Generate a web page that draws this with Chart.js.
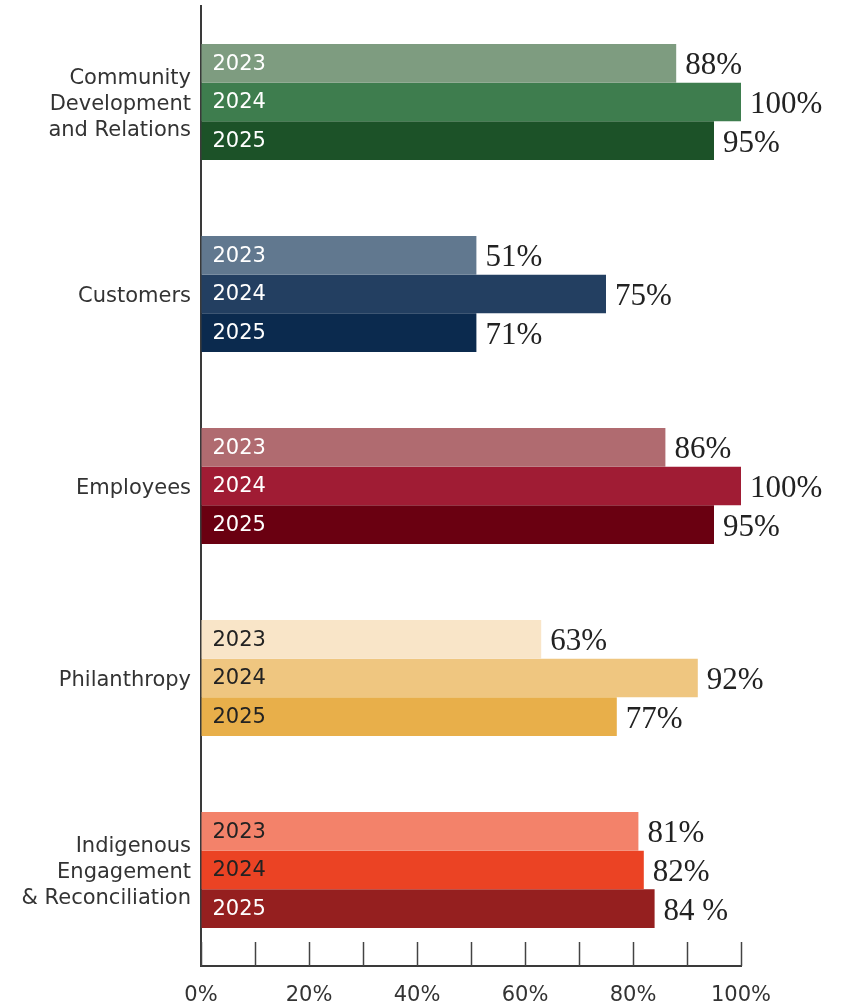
<!DOCTYPE html>
<html>
<head>
<meta charset="utf-8">
<script src="https://cdn.jsdelivr.net/npm/chart.js@4"></script>
<style>
  html, body { margin: 0; padding: 0; background: #fff; }
  #wrap { width: 843px; height: 1004px; }
</style>
</head>
<body>
<div id="wrap"><canvas id="c" width="843" height="1004"></canvas></div>
<script>
// categories (multi-line axis labels)
var categories = [
  ["Community", "Development", "and Relations"],
  ["Customers"],
  ["Employees"],
  ["Philanthropy"],
  ["Indigenous", "Engagement", "& Reconciliation"]
];
var years = ["2023", "2024", "2025"];

// bar lengths as drawn (%)
var values2023 = [88, 51, 86, 63, 81];
var values2024 = [100, 75, 100, 92, 82];
var values2025 = [95, 51, 95, 77, 84];

// printed labels next to the bars
var labels2023 = ["88%", "51%", "86%", "63%", "81%"];
var labels2024 = ["100%", "75%", "100%", "92%", "82%"];
var labels2025 = ["95%", "71%", "95%", "77%", "84 %"];

var colors2023 = ["#7e9c80", "#61788f", "#b06b70", "#f9e5c8", "#f3826a"];
var colors2024 = ["#3e7d4e", "#233f61", "#a01c34", "#efc680", "#eb4324"];
var colors2025 = ["#1c5228", "#0b2a4e", "#6a0011", "#e8af4a", "#951f1f"];

// year text colour inside each bar
var yearText2023 = ["#fff", "#fff", "#fff", "#222", "#222"];
var yearText2024 = ["#fff", "#fff", "#fff", "#222", "#222"];
var yearText2025 = ["#fff", "#fff", "#fff", "#222", "#fff"];

var xTicks = [0, 20, 40, 60, 80, 100];

var valueLabels = [labels2023, labels2024, labels2025];
var yearColors = [yearText2023, yearText2024, yearText2025];

var sans = '"DejaVu Sans", "Noto Sans", sans-serif';

var barLabels = {
  id: 'barLabels',
  afterDatasetsDraw: function (chart) {
    var ctx = chart.ctx;
    ctx.save();
    ctx.textBaseline = 'middle';
    chart.data.datasets.forEach(function (ds, di) {
      var meta = chart.getDatasetMeta(di);
      meta.data.forEach(function (bar, i) {
        // year inside bar
        ctx.font = '21px ' + sans;
        ctx.fillStyle = yearColors[di][i];
        ctx.textAlign = 'left';
        ctx.fillText(ds.label, bar.base + 11, bar.y + 1);
        // value after bar
        ctx.font = '31px "Liberation Serif", "DejaVu Serif", serif';
        ctx.fillStyle = '#222';
        ctx.fillText(valueLabels[di][i], bar.x + 9, bar.y + 3);
      });
    });
    ctx.restore();
  }
};

// small tick marks rising from the x axis
var innerTicks = {
  id: 'innerTicks',
  afterDraw: function (chart) {
    var ctx = chart.ctx;
    var x = chart.scales.x;
    var bottom = chart.chartArea.bottom;
    ctx.save();
    ctx.strokeStyle = '#444';
    ctx.lineWidth = 1.5;
    x.ticks.forEach(function (t, i) {
      var px = Math.round(x.getPixelForTick(i)) + 0.5;
      ctx.beginPath();
      ctx.moveTo(px, bottom);
      ctx.lineTo(px, bottom - 24);
      ctx.stroke();
    });
    ctx.restore();
  }
};

new Chart(document.getElementById('c'), {
  type: 'bar',
  data: {
    labels: categories,
    datasets: [
      { label: years[0], data: values2023, backgroundColor: colors2023 },
      { label: years[1], data: values2024, backgroundColor: colors2024 },
      { label: years[2], data: values2025, backgroundColor: colors2025 }
    ]
  },
  options: {
    indexAxis: 'y',
    responsive: false,
    animation: false,
    events: [],
    layout: { padding: { top: 6, right: 102, left: 0, bottom: 0 } },
    datasets: {
      bar: { categoryPercentage: 0.604, barPercentage: 1.0, borderWidth: 0 }
    },
    plugins: {
      legend: { display: false },
      tooltip: { enabled: false }
    },
    scales: {
      x: {
        min: 0,
        max: 100,
        afterFit: function (s) { s.height = 38; s.paddingLeft = 0; s.paddingRight = 0; },
        ticks: {
          stepSize: 10,
          padding: 17,
          maxRotation: 0,
          autoSkip: false,
          color: '#333',
          font: { family: sans, size: 21 },
          callback: function (v) { return xTicks.indexOf(v) >= 0 ? v + '%' : ''; }
        },
        grid: { drawOnChartArea: false, drawTicks: false },
        border: { display: true, color: '#3a3a3a', width: 2 }
      },
      y: {
        afterFit: function (s) { s.width = 201; s.paddingTop = 0; s.paddingBottom = 0; },
        ticks: {
          padding: 2,
          labelOffset: 3,
          color: '#333',
          font: { family: sans, size: 21, lineHeight: 1.24 }
        },
        grid: { display: false },
        border: { display: true, color: '#3a3a3a', width: 2 }
      }
    }
  },
  plugins: [barLabels, innerTicks]
});
</script>
</body>
</html>
